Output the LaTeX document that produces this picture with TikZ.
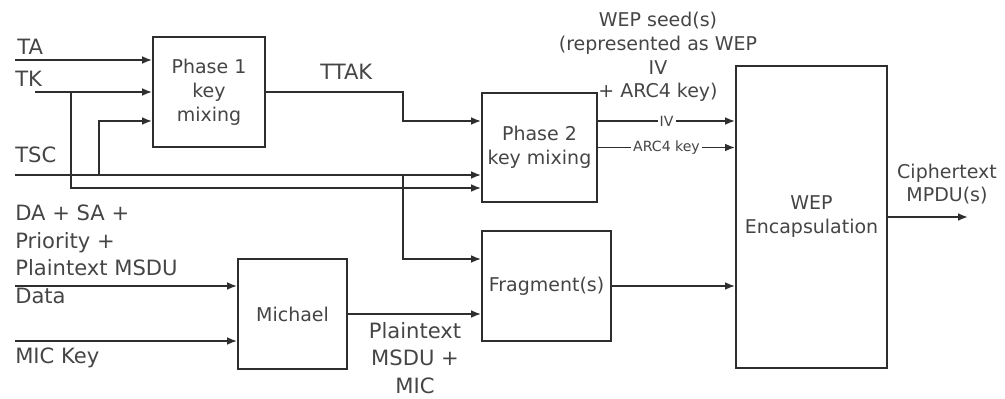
\documentclass[tikz,border=0pt]{standalone}
\usepackage{fontspec}
\setmainfont{DejaVu Sans}
\usetikzlibrary{arrows.meta,positioning,calc}

\definecolor{inkgray}{HTML}{2E2E2E}
\definecolor{txtgray}{HTML}{454545}

\begin{document}
\begin{tikzpicture}[
    x=0.025cm, y=-0.025cm,
    >={Latex[length=7pt,width=5.5pt]},
    block/.style={rectangle, draw=inkgray, line width=1.3pt, fill=white, align=center, inner sep=0pt, text=txtgray, font=\fontsize{13.5}{17}\selectfont},
    signal/.style={inner sep=0pt, text=txtgray, align=left, font=\fontsize{15}{19.5}\selectfont},
    seedlabel/.style={inner sep=0pt, text=txtgray, align=center, font=\fontsize{13.5}{17}\selectfont},
    linelabel/.style={inner sep=1.5pt, fill=white, text=txtgray, font=\fontsize{10}{11}\selectfont},
    arrow/.style={->, line width=1.3pt, draw=inkgray}
]

% Page frame
\useasboundingbox (0,0) rectangle (1005,399);

% Processing blocks
\node[block, minimum width=2.8cm, minimum height=2.75cm] (phase1) at (209,92) {Phase 1\\key\\mixing};
\node[block, minimum width=2.875cm, minimum height=2.725cm] (phase2) at (539.5,147.5) {Phase 2\\key mixing};
\node[block, minimum width=3.225cm, minimum height=2.75cm] (fragment) at (546.5,286) {Fragment(s)};
\node[block, minimum width=2.725cm, minimum height=2.75cm] (michael) at (292.5,314) {Michael};
\node[block, minimum width=3.775cm, minimum height=7.55cm] (wep) at (811.5,217) {WEP\\Encapsulation};

% Free ends and taps
\coordinate (ta) at (15,60);
\coordinate (tk) at (35,92);
\coordinate (tk-tap) at (71,92);
\coordinate (tsc) at (15,175);
\coordinate (tsc-tap) at (99,175);
\coordinate (frag-tap) at (403,175);
\coordinate (ttak-bend) at (403,92);
\coordinate (data) at (15,286);
\coordinate (mickey) at (15,341);
\coordinate (cipher) at (968,217);
\coordinate (p1-in3) at ($(phase1.west)+(0,29)$);
\coordinate (p2-in1) at ($(phase2.west)+(0,-26.5)$);
\coordinate (p2-in4) at ($(phase2.west)+(0,40.5)$);
\coordinate (p2-out1) at ($(phase2.east)+(0,-26.5)$);
\coordinate (frag-in1) at ($(fragment.west)+(0,-27)$);

% Inputs of phase 1
\draw[arrow] (ta) -- (ta -| phase1.west);
\draw[arrow] (tk) -- (phase1.west);
\draw[arrow] (tsc-tap) |- (p1-in3);

% Inputs of phase 2
\draw[arrow] (phase1.east) -- (ttak-bend) |- (p2-in1);
\draw[arrow] (tsc) -- (tsc -| phase2.west);
\draw[arrow] (tk-tap) |- (p2-in4);

% Fragmentation path
\draw[arrow] (frag-tap) |- (frag-in1);
\draw[arrow] (data) -- (data -| michael.west);
\draw[arrow] (mickey) -- (mickey -| michael.west);
\draw[arrow] (michael.east) -- (michael.east -| fragment.west);
\draw[arrow] (fragment.east) -- (fragment.east -| wep.west);

% WEP seed
\draw[arrow] (p2-out1) -- node[linelabel] (iv-label) {IV} (p2-out1 -| wep.west);
\draw[arrow] (phase2.east) -- node[linelabel] (arc4-label) {ARC4 key} (phase2.east -| wep.west);

% Output
\draw[arrow] (wep.east) -- (cipher);

% Labels (multi-line ones anchored on their last baseline)
\node[signal, anchor=base west] (ta-label) at (17,55) {TA};
\node[signal, anchor=base west] (tk-label) at (15,87) {TK};
\node[signal, anchor=base west] (tsc-label) at (15,163) {TSC};
\node[signal, anchor=base west] (ttak-label) at (320,80) {TTAK};
\node[signal, anchor=base west] (data-label) at (15,303) {DA + SA +\\Priority +\\Plaintext MSDU\\Data};
\node[signal, anchor=base west] (mickey-label) at (15,363) {MIC Key};
\node[signal, align=center, anchor=base, font=\fontsize{15}{19.5}\selectfont] (mic-label) at (415,393) {Plaintext\\MSDU +\\MIC};
\node[seedlabel, anchor=base] (seed-label) at (658,98) {WEP seed(s)\\(represented as WEP\\IV\\+ ARC4 key)};
\node[seedlabel, anchor=base] (cipher-label) at (947,202) {Ciphertext\\MPDU(s)};

\end{tikzpicture}
\end{document}
